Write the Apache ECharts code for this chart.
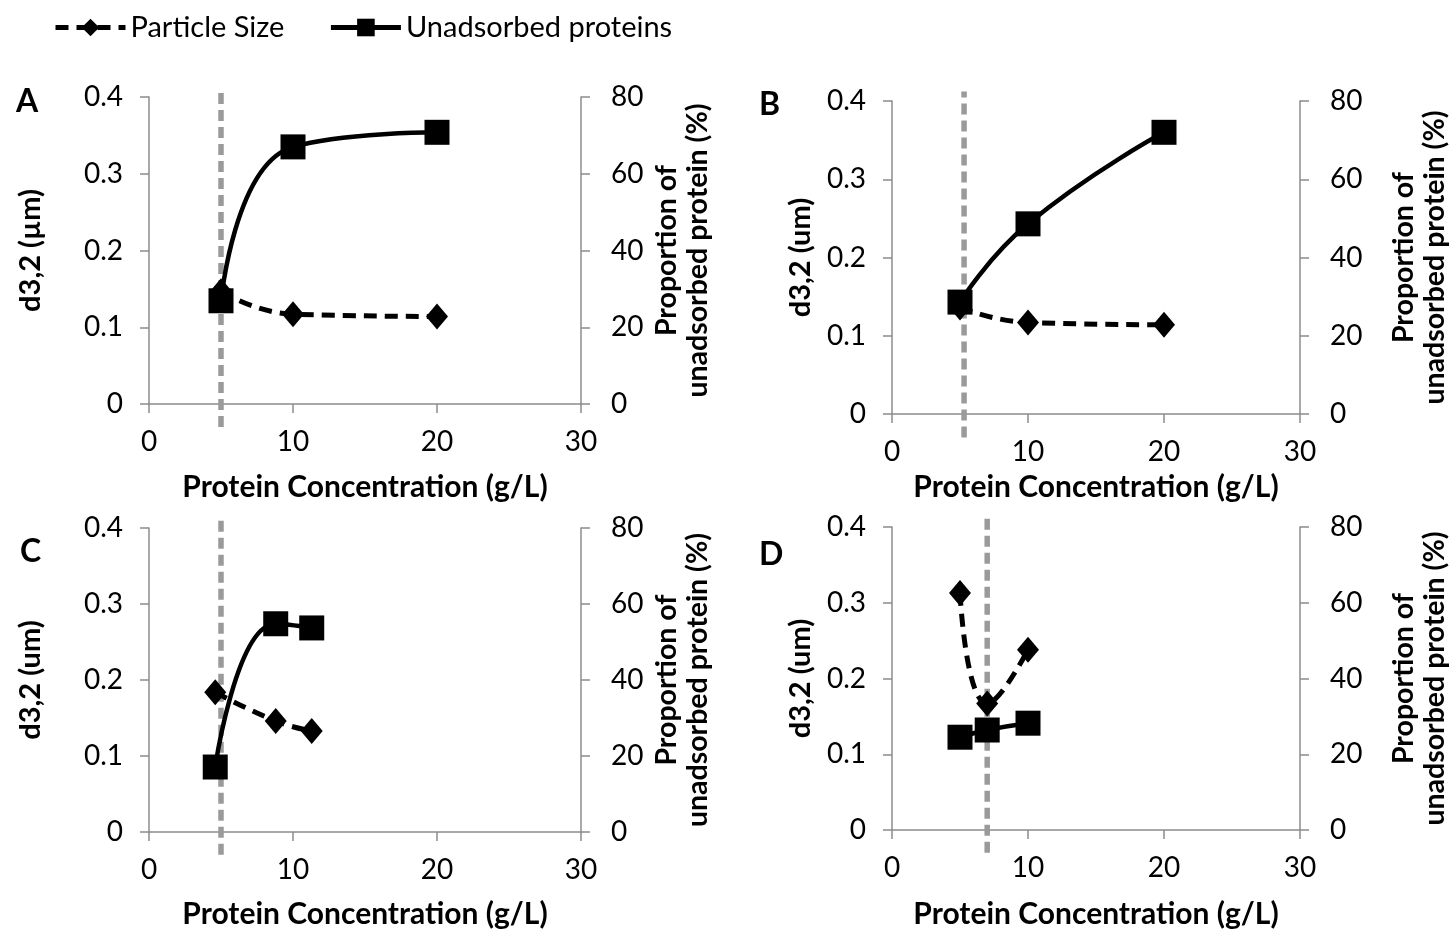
<!DOCTYPE html>
<html>
<head>
<meta charset="utf-8">
<script src="https://cdn.jsdelivr.net/npm/echarts@6/dist/echarts.min.js"></script>
<style>
  html, body { margin: 0; padding: 0; background: #fff; }
  #chart { width: 1454px; height: 936px; }
</style>
</head>
<body>
<div id="chart"></div>
<script>
// Chart data
const legendNames = ["Particle Size", "Unadsorbed proteins"];
const panelLetters = ["A", "B", "C", "D"];
const leftTitles = ["d3,2 (µm)", "d3,2 (um)", "d3,2 (um)", "d3,2 (um)"];
const xTitle = "Protein Concentration (g/L)";
const rightTitle = "Proportion of\nunadsorbed protein (%)";

// [protein concentration g/L, d3,2 um]
const sizeA = [[5, 0.147], [10, 0.117], [20, 0.114]];
const sizeB = [[5, 0.136], [10, 0.117], [20, 0.114]];
const sizeC = [[4.6, 0.184], [8.8, 0.146], [11.3, 0.133]];
const sizeD = [[5, 0.313], [7, 0.167], [10, 0.238]];

// [protein concentration g/L, % unadsorbed]
const unadsA = [[5, 26.9], [10, 67], [20, 70.8]];
const unadsB = [[5, 28.6], [10, 48.6], [20, 72]];
const unadsC = [[4.6, 17.1], [8.8, 54.8], [11.3, 53.7]];
const unadsD = [[5, 24.5], [7, 26.4], [10, 28.2]];

// dashed reference line position per panel
const cutoffX = [5, 5.3, 5, 7];
const cutoffRange = [-0.03, 0.412];

const sizeData = [sizeA, sizeB, sizeC, sizeD];
const unadsData = [unadsA, unadsB, unadsC, unadsD];

// Layout of each panel
const grids = [
  { left: 149, top: 97, width: 432, height: 307 },
  { left: 892, top: 101, width: 408, height: 313 },
  { left: 149, top: 528, width: 432, height: 304 },
  { left: 892, top: 527, width: 408, height: 303 },
];
const letterPos = [[11, 81], [754, 84], [15, 531], [754, 534]];
const leftNameGap = [104, 77, 104, 77];
const rightNameGap = [70, 88, 70, 88];
const xNameGap = [68, 58, 67, 69];

const font = "Lato, 'Open Sans', sans-serif";
const axisGrey = "#8c8c8c";

const chart = echarts.init(document.getElementById("chart"));

const xAxes = [], yAxes = [], series = [], titles = [];

grids.forEach((g, i) => {
  xAxes.push({
    gridIndex: i, type: "value", min: 0, max: 30, interval: 10,
    name: xTitle, nameLocation: "middle", nameGap: xNameGap[i],
    nameTextStyle: { fontFamily: font, fontWeight: "bold", fontSize: 30, color: "#000" },
    axisLine: { lineStyle: { color: axisGrey, width: 1.5 } },
    axisTick: { length: 9, lineStyle: { color: axisGrey, width: 1.5 } },
    axisLabel: { fontFamily: font, fontSize: 28, color: "#000", margin: 24 },
    splitLine: { show: false },
  });
  yAxes.push({
    gridIndex: i, type: "value", position: "left", min: 0, max: 0.4, interval: 0.1,
    name: leftTitles[i], nameLocation: "middle", nameGap: leftNameGap[i],
    nameTextStyle: { fontFamily: font, fontWeight: "bold", fontSize: 29, color: "#000" },
    axisLine: { show: true, lineStyle: { color: axisGrey, width: 1.5 } },
    axisTick: { show: true, length: 9, lineStyle: { color: axisGrey, width: 1.5 } },
    axisLabel: { fontFamily: font, fontSize: 28, color: "#000", margin: 26 },
    splitLine: { show: false },
  });
  yAxes.push({
    gridIndex: i, type: "value", position: "right", min: 0, max: 80, interval: 20,
    name: rightTitle, nameLocation: "middle", nameGap: rightNameGap[i],
    nameTextStyle: { fontFamily: font, fontWeight: "bold", fontSize: 28.5, color: "#000", lineHeight: 31 },
    axisLine: { show: true, lineStyle: { color: axisGrey, width: 1.5 } },
    axisTick: { show: true, length: 9, lineStyle: { color: axisGrey, width: 1.5 } },
    axisLabel: { fontFamily: font, fontSize: 28, color: "#000", margin: 30 },
    splitLine: { show: false },
  });

  // grey dashed reference line, runs past the plot edges like the original
  series.push({
    name: "cutoff", type: "line", xAxisIndex: i, yAxisIndex: i * 2,
    data: cutoffRange.map(v => [cutoffX[i], v]),
    symbol: "none", clip: false, silent: true, z: 1,
    lineStyle: { color: "#9a9a9a", width: 5.5, type: [11, 6] },
  });
  series.push({
    name: legendNames[0], type: "line", xAxisIndex: i, yAxisIndex: i * 2,
    data: sizeData[i], smooth: true, z: 3,
    symbol: "diamond", symbolSize: [22, 26],
    itemStyle: { color: "#000" },
    lineStyle: { color: "#000", width: 5, type: [13, 8] },
  });
  series.push({
    name: legendNames[1], type: "line", xAxisIndex: i, yAxisIndex: i * 2 + 1,
    data: unadsData[i], smooth: true, z: 2,
    symbol: "rect", symbolSize: 25,
    itemStyle: { color: "#000" },
    lineStyle: { color: "#000", width: 4.5 },
  });

  titles.push({
    text: panelLetters[i], left: letterPos[i][0], top: letterPos[i][1],
    textStyle: { fontFamily: font, fontWeight: "bold", fontSize: 32, color: "#000" },
  });
});

chart.setOption({
  animation: false,
  backgroundColor: "#fff",
  title: titles,
  legend: {
    data: legendNames, left: 48, top: 8,
    itemWidth: 70, itemHeight: 22, itemGap: 44,
    lineStyle: { width: 5 },
    textStyle: { fontFamily: font, fontSize: 29, color: "#000" },
  },
  grid: grids,
  xAxis: xAxes,
  yAxis: yAxes,
  series: series,
});
</script>
</body>
</html>
